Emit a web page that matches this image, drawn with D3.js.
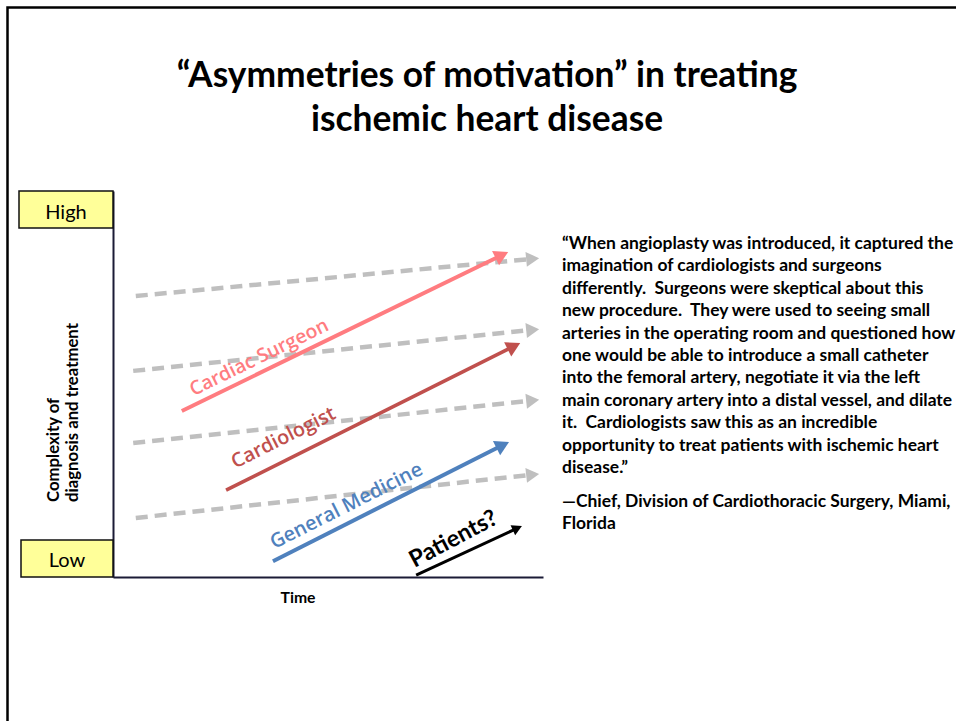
<!DOCTYPE html>
<html>
<head>
<meta charset="utf-8">
<script src="https://cdn.jsdelivr.net/npm/d3@7"></script>
<style>
  body { margin: 0; background: #fff; }
  text { white-space: pre; }
</style>
</head>
<body>
<script>
// grey "baseline" trends (time 0-100, complexity 0-100)
var guideX0 = [5.3, 4.7, 4.7, 5.3];
var guideY0 = [72.8, 53.4, 34.7, 15.3];
var guideX1 = [99.1, 99.1, 99.1, 99.1];
var guideY1 = [82.6, 64.2, 45.9, 26.7];

// specialty trends
var groups = ["Cardiac Surgeon", "Cardiologist", "General Medicine", "Patients?"];
var groupX0 = [16.0, 26.3, 37.2, 70.5];
var groupY0 = [43.0, 22.5, 4.1, 0.5];
var groupX1 = [91.9, 94.7, 92.1, 95.1];
var groupY1 = [84.2, 60.6, 35.0, 13.2];

var levelLabels = ["High", "Low"];
var axisTitleY = ["Complexity of", "diagnosis and treatment"];
var axisTitleX = "Time";
var titleLines = ["\u201CAsymmetries of motivation\u201D in treating", "ischemic heart disease"];
var quoteLines = [
  "\u201CWhen angioplasty was introduced, it captured the",
  "imagination of cardiologists and surgeons",
  "differently.  Surgeons were skeptical about this",
  "new procedure.  They were used to seeing small",
  "arteries in the operating room and questioned how",
  "one would be able to introduce a small catheter",
  "into the femoral artery, negotiate it via the left",
  "main coronary artery into a distal vessel, and dilate",
  "it.  Cardiologists saw this as an incredible",
  "opportunity to treat patients with ischemic heart",
  "disease.\u201D"
];
var sourceLines = ["\u2014Chief, Division of Cardiothoracic Surgery, Miami,", "Florida"];

// styling / layout
var groupColors = ["#FF7C80", "#C0504D", "#4F81BD", "#000000"];
var groupStroke = [4, 3.6, 4, 3];
var groupHead = [[14, 8], [14, 8], [14, 8], [10, 5.5]];
var labelPos = [[0.256, 15], [0.227, 22], [0.342, 17], [0.42, 18]];
var labelLen = [152, 114, 168, 96];
var labelRot = [null, null, null, -28];
var labelWeight = [600, 600, 600, "bold"];
var font = "Lato, 'Open Sans', sans-serif";
var labelFont = "'Open Sans', Lato, sans-serif";

var width = 956, height = 721;

var svg = d3
  .select("body")
  .append("svg")
  .attr("width", width)
  .attr("height", height);

// slide frame
svg
  .append("path")
  .attr("d", "M7.5," + height + "V7.5H" + width)
  .attr("fill", "none")
  .attr("stroke", "#000")
  .attr("stroke-width", 2.5);

function fitText(sel, target) {
  var w = sel.node().getComputedTextLength();
  var fs = parseFloat(sel.attr("font-size"));
  var nf = (fs * target) / w;
  sel.attr("font-size", nf);
  return nf;
}

// title
var titleG = svg.append("g").attr("font-family", font).attr("font-weight", "bold").attr("fill", "#000");
var titleText = titleG
  .selectAll("text")
  .data(titleLines)
  .enter()
  .append("text")
  .attr("x", 487)
  .attr("y", function (d, i) {
    return 87 + i * 44;
  })
  .attr("text-anchor", "middle")
  .attr("font-size", 34)
  .text(function (d) {
    return d;
  });
var tfs = fitText(d3.select(titleText.nodes()[0]), 621);
titleText.attr("font-size", tfs);

// chart scales
var x = d3.scaleLinear().domain([0, 100]).range([113, 543]);
var y = d3.scaleLinear().domain([0, 100]).range([577, 191]);

var axisColor = "#1B1B36";
svg
  .append("g")
  .attr("transform", "translate(" + x(0) + ",0)")
  .call(d3.axisLeft(y).tickValues([]).tickSizeOuter(0))
  .select(".domain")
  .attr("stroke", axisColor)
  .attr("stroke-width", 2);
svg
  .append("g")
  .attr("transform", "translate(0," + y(0) + ")")
  .call(d3.axisBottom(x).tickValues([]).tickSizeOuter(0))
  .select(".domain")
  .attr("stroke", axisColor)
  .attr("stroke-width", 2);

// High / Low boxes
var boxes = [
  { label: levelLabels[0], x0: 19, x1: x(0), y0: y(100), y1: 228, base: 219 },
  { label: levelLabels[1], x0: 21, x1: x(0), y0: 540, y1: y(0), base: 567 },
];
svg
  .selectAll(".lvl")
  .data(boxes)
  .enter()
  .append("rect")
  .attr("class", "lvl")
  .attr("x", function (d) {
    return d.x0;
  })
  .attr("y", function (d) {
    return d.y0;
  })
  .attr("width", function (d) {
    return d.x1 - d.x0;
  })
  .attr("height", function (d) {
    return d.y1 - d.y0;
  })
  .attr("fill", "#FFFF99")
  .attr("stroke", "#111")
  .attr("stroke-width", 1.5);
svg
  .selectAll(".lvlText")
  .data(boxes)
  .enter()
  .append("text")
  .attr("class", "lvlText")
  .attr("x", function (d) {
    return (d.x0 + d.x1) / 2;
  })
  .attr("y", function (d) {
    return d.base;
  })
  .attr("text-anchor", "middle")
  .attr("font-family", font)
  .attr("font-size", 20)
  .attr("fill", "#000")
  .text(function (d) {
    return d.label;
  });

// axis titles
var yt = svg
  .selectAll(".ytitle")
  .data(axisTitleY)
  .enter()
  .append("text")
  .attr("class", "ytitle")
  .attr("transform", function (d, i) {
    return "translate(" + (59 + i * 19) + ",502) rotate(-90)";
  })
  .attr("font-family", font)
  .attr("font-weight", "bold")
  .attr("font-size", 15)
  .text(function (d) {
    return d;
  });
var yfs = fitText(d3.select(yt.nodes()[1]), 179);
yt.attr("font-size", yfs);

var xt = svg
  .append("text")
  .attr("x", 298)
  .attr("y", 603)
  .attr("text-anchor", "middle")
  .attr("font-family", font)
  .attr("font-weight", "bold")
  .attr("font-size", 15)
  .text(axisTitleX);
fitText(xt, 35);

// arrows
function arrow(g, x0, y0, x1, y1, color, sw, head, dash) {
  var dx = x1 - x0,
    dy = y1 - y0,
    len = Math.sqrt(dx * dx + dy * dy);
  var ux = dx / len,
    uy = dy / len;
  var bx = x1 - ux * head[0],
    by = y1 - uy * head[0];
  g.append("path")
    .attr("d", d3.line()([[x0, y0], [bx + ux, by + uy]]))
    .attr("fill", "none")
    .attr("stroke", color)
    .attr("stroke-width", sw)
    .attr("stroke-dasharray", dash || null);
  g.append("path")
    .attr(
      "d",
      d3.line()([
        [x1, y1],
        [bx - uy * head[1], by + ux * head[1]],
        [bx + uy * head[1], by - ux * head[1]],
      ]) + "Z"
    )
    .attr("fill", color);
}

var guideG = svg.append("g");
guideX0.forEach(function (d, i) {
  arrow(guideG, x(guideX0[i]), y(guideY0[i]), x(guideX1[i]), y(guideY1[i]), "#BFBFBF", 4.5, [13, 7.5], "12,7");
});

var groupG = svg.append("g");
groups.forEach(function (name, i) {
  var px0 = x(groupX0[i]),
    py0 = y(groupY0[i]),
    px1 = x(groupX1[i]),
    py1 = y(groupY1[i]);
  arrow(groupG, px0, py0, px1, py1, groupColors[i], groupStroke[i], groupHead[i]);

  var dx = px1 - px0,
    dy = py1 - py0,
    len = Math.sqrt(dx * dx + dy * dy);
  var ux = dx / len,
    uy = dy / len;
  var t = labelPos[i][0] * len,
    off = labelPos[i][1];
  var cx = px0 + ux * t + uy * off,
    cy = py0 + uy * t - ux * off;
  var ang = labelRot[i] != null ? labelRot[i] : (Math.atan2(dy, dx) * 180) / Math.PI;
  var lbl = groupG
    .append("text")
    .attr("transform", "translate(" + cx + "," + cy + ") rotate(" + ang + ")")
    .attr("text-anchor", "middle")
    .attr("dy", "0.35em")
    .attr("font-family", labelWeight[i] === "bold" ? font : labelFont)
    .attr("font-weight", labelWeight[i])
    .attr("font-size", 20)
    .attr("fill", groupColors[i])
    .text(name);
  fitText(lbl, labelLen[i]);
});

// quote
var qG = svg.append("g").attr("font-family", font).attr("font-weight", "bold").attr("fill", "#000");
var qText = qG
  .selectAll(".q")
  .data(quoteLines)
  .enter()
  .append("text")
  .attr("class", "q")
  .attr("x", 562)
  .attr("y", function (d, i) {
    return 249 + i * 22.4;
  })
  .attr("font-size", 16)
  .text(function (d) {
    return d;
  });
var qfs = fitText(d3.select(qText.nodes()[1]), 320);
qText.attr("font-size", qfs);

qG.selectAll(".s")
  .data(sourceLines)
  .enter()
  .append("text")
  .attr("class", "s")
  .attr("x", 562)
  .attr("y", function (d, i) {
    return 507 + i * 22;
  })
  .attr("font-size", qfs)
  .text(function (d) {
    return d;
  });
</script>
</body>
</html>
